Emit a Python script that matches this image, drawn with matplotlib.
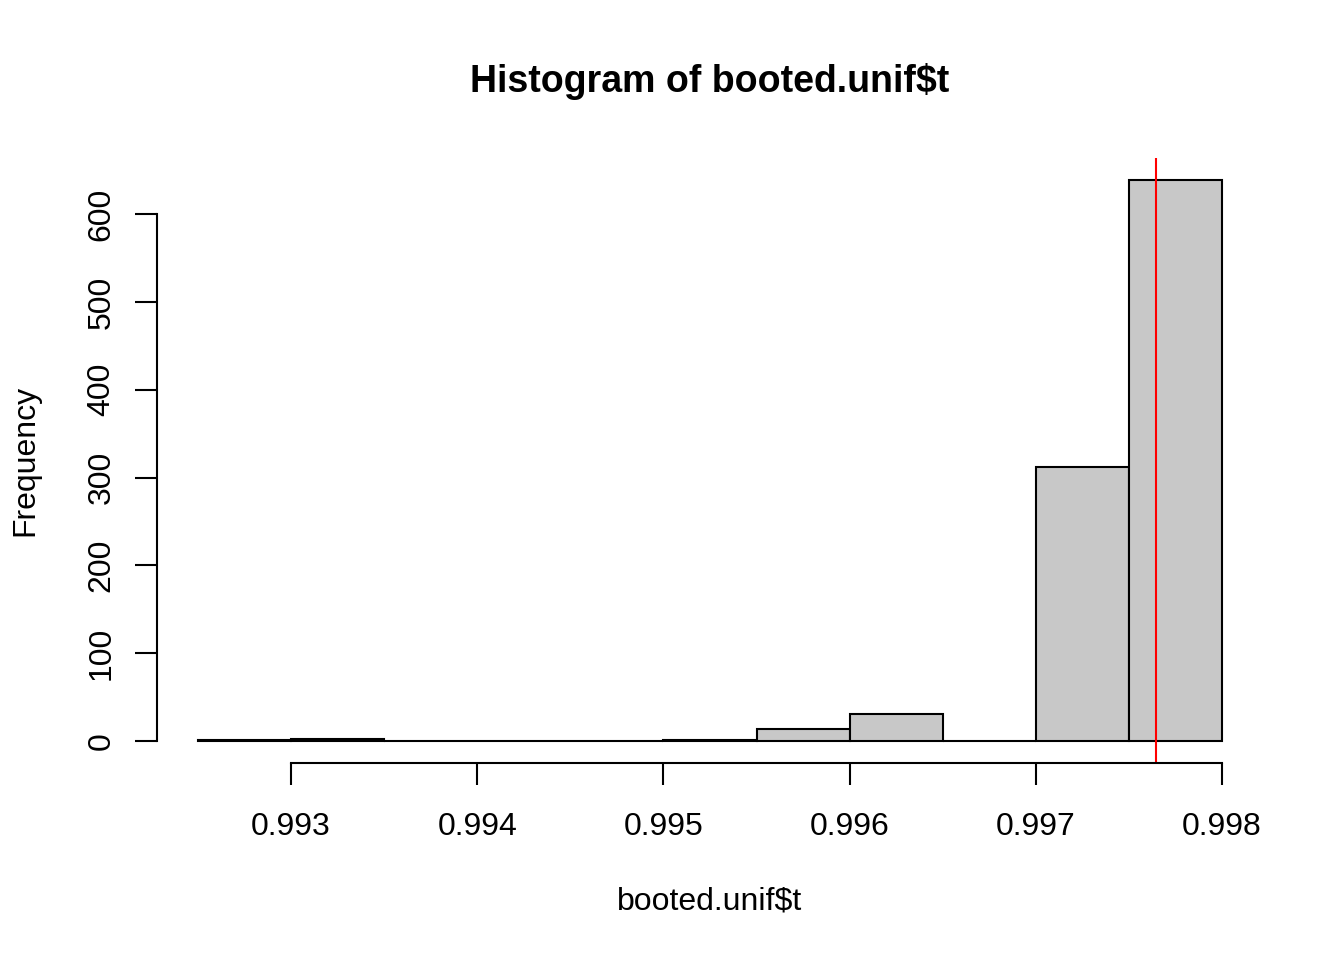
import matplotlib
matplotlib.use("Agg")
import matplotlib.pyplot as plt
import numpy as np

bin_edges = [0.9925, 0.9930, 0.9935, 0.9940, 0.9945, 0.9950, 0.9955, 0.9960, 0.9965, 0.9970, 0.9975, 0.9980]
counts = [1, 2, 0, 0, 0, 1, 14, 31, 0, 312, 639]
x_ticks = [0.993, 0.994, 0.995, 0.996, 0.997, 0.998]
x_tick_labels = ["0.993", "0.994", "0.995", "0.996", "0.997", "0.998"]
y_ticks = [0, 100, 200, 300, 400, 500, 600]
ref_value = 0.997646

plt.rcParams['font.family'] = ['Liberation Sans', 'DejaVu Sans']

W, H = 1344, 960
fig = plt.figure(figsize=(W / 100, H / 100), dpi=100)
L, R, B, T = 157, 1263, 763.4, 157.5
ax = fig.add_axes([L / W, 1 - B / H, (R - L) / W, (B - T) / H])

widths = np.diff(bin_edges)
ax.bar(bin_edges[:-1], counts, width=widths, align='edge', color='#C8C8C8',
       edgecolor='black', linewidth=1.5)
ax.axvline(ref_value, color='red', linewidth=1.5)

xr = bin_edges[-1] - bin_edges[0]
ax.set_xlim(bin_edges[0] - 0.04 * xr, bin_edges[-1] + 0.04 * xr)
ymax = max(counts)
ax.set_ylim(-0.04 * ymax, ymax * 1.04)

for s in ['top', 'right']:
    ax.spines[s].set_visible(False)
ax.spines['bottom'].set_bounds(x_ticks[0], x_ticks[-1])
ax.spines['left'].set_bounds(y_ticks[0], y_ticks[-1])
ax.spines['bottom'].set_linewidth(1.5)
ax.spines['left'].set_linewidth(1.5)

ax.set_xticks(x_ticks)
ax.set_xticklabels(x_tick_labels)
ax.set_yticks(y_ticks)
ax.set_yticklabels([str(v) for v in y_ticks], rotation=90, va='center')
ax.tick_params(axis='both', length=16, width=1.5, labelsize=23)
ax.tick_params(axis='x', pad=19)
ax.tick_params(axis='y', pad=13)

fig.text(710 / W, 1 - 82 / H, "Histogram of booted.unif$t", ha='center', va='center',
         fontsize=27, fontweight='bold')
fig.text(710 / W, 1 - 901 / H, "booted.unif$t", ha='center', va='center', fontsize=23)
fig.text(25 / W, 1 - 460 / H, "Frequency", ha='center', va='center', fontsize=23, rotation=90)

fig.savefig("out.png", dpi=100)
